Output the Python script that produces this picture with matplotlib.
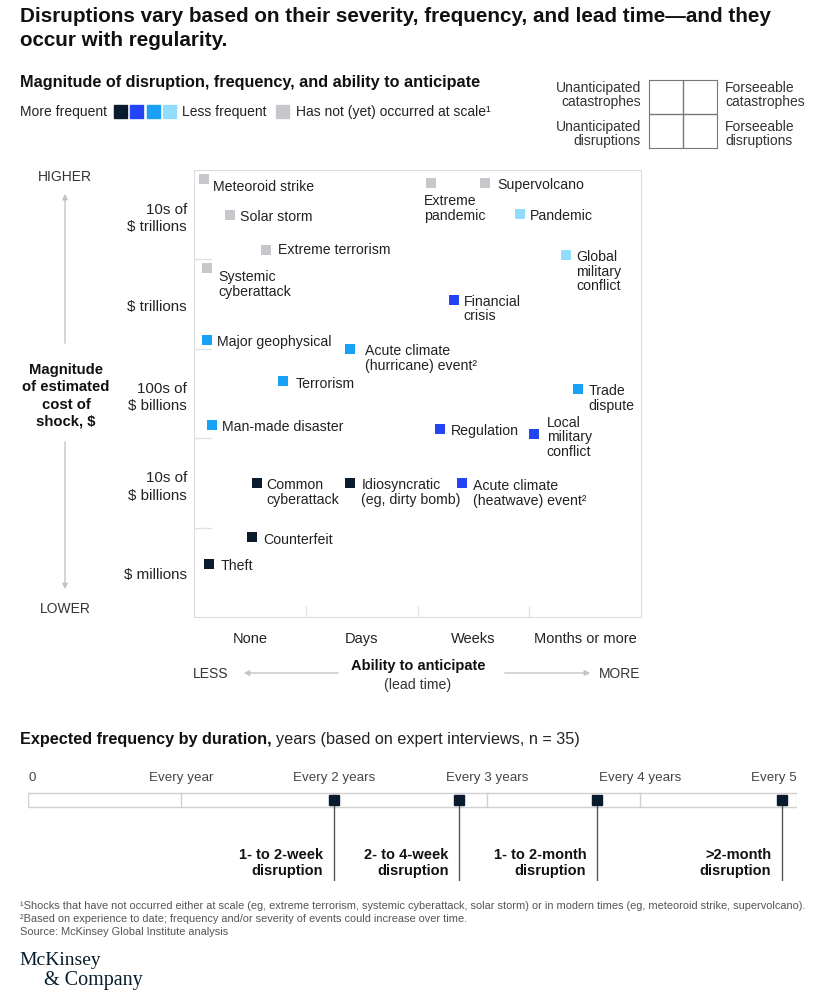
import matplotlib
matplotlib.use("Agg")
import matplotlib.pyplot as plt
from matplotlib.patches import Rectangle

plt.rcParams['font.family'] = ['Liberation Sans', 'DejaVu Sans']

# ---- data ----
freq_colors = ['#0b1b2e', '#2443f5', '#18a0f5', '#92dcfc']
gray_color = '#c7c7cb'

events = ['Meteoroid strike', 'Solar storm', 'Extreme terrorism', 'Systemic\ncyberattack',
          'Major geophysical', 'Terrorism', 'Man-made disaster', 'Common\ncyberattack',
          'Counterfeit', 'Theft', 'Acute climate\n(hurricane) event\u00b2',
          'Idiosyncratic\n(eg, dirty bomb)', 'Extreme\npandemic', 'Supervolcano', 'Pandemic',
          'Global\nmilitary\nconflict', 'Financial\ncrisis', 'Trade\ndispute', 'Regulation',
          'Local\nmilitary\nconflict', 'Acute climate\n(heatwave) event\u00b2']
anticipate = [0.09, 0.32, 0.64, 0.12, 0.12, 0.80, 0.16, 0.56, 0.52, 0.13, 1.40,
              1.40, 2.12, 2.60, 2.92, 3.33, 2.33, 3.44, 2.20, 3.04, 2.40]
magnitude = [4.90, 4.50, 4.11, 3.90, 3.10, 2.64, 2.15, 1.50, 0.89, 0.59, 3.00,
             1.50, 4.85, 4.85, 4.51, 4.05, 3.55, 2.55, 2.10, 2.05, 1.50]
# frequency class: 0 most frequent .. 3 least frequent, -1 = not yet occurred at scale
freq_class = [-1, -1, -1, -1, 2, 2, 2, 0, 0, 0, 2,
              0, -1, -1, 3, 3, 1, 2, 1, 1, 1]

row_labels = ['$ millions', '10s of\n$ billions', '100s of\n$ billions', '$ trillions', '10s of\n$ trillions']
col_labels = ['None', 'Days', 'Weeks', 'Months or more']

timeline_labels = ['0', 'Every year', 'Every 2 years', 'Every 3 years', 'Every 4 years', 'Every 5']
durations = ['1- to 2-week\ndisruption', '2- to 4-week\ndisruption',
             '1- to 2-month\ndisruption', '>2-month\ndisruption']
duration_years = [2.0, 2.82, 3.72, 4.93]

# ---- layout helpers ----
W, H = 825, 995
fig = plt.figure(figsize=(W / 100, H / 100), dpi=100)
fig.patch.set_facecolor('white')
TXT = '#222222'


def T(x, y, s, **kw):
    kw.setdefault('color', TXT)
    kw.setdefault('fontsize', 10)
    kw.setdefault('va', 'center')
    return fig.text(x / W, 1 - y / H, s, **kw)


def arrow(x0, y0, x1, y1):
    fig.add_artist(matplotlib.patches.FancyArrowPatch(
        (x0 / W, 1 - y0 / H), (x1 / W, 1 - y1 / H), transform=fig.transFigure,
        arrowstyle='-|>', mutation_scale=8, color='#c4c4c4', lw=1))


# title
T(20, 28.5, 'Disruptions vary based on their severity, frequency, and lead time\u2014and they\noccur with regularity.',
  fontsize=14.9, fontweight='bold', color='#111111', linespacing=1.3)

T(20, 82, 'Magnitude of disruption, frequency, and ability to anticipate', fontsize=11.7, fontweight='bold', color='#111111')

# legend
T(20, 112, 'More frequent')
for i, c in enumerate(freq_colors):
    fig.add_artist(Rectangle(((114 + i * 16.3) / W, 1 - 119 / H), 13 / W, 13 / H,
                             transform=fig.transFigure, color=c))
T(182, 112, 'Less frequent')
fig.add_artist(Rectangle((276 / W, 1 - 119 / H), 13 / W, 13 / H, transform=fig.transFigure, color=gray_color))
T(296, 112, 'Has not (yet) occurred at scale\u00b9')

# quadrant key
qa = fig.add_axes([649 / W, 1 - 149 / H, 68 / W, 68 / H])
qa.set_xlim(0, 2)
qa.set_ylim(0, 2)
qa.axvline(1, color='#777777', lw=1)
qa.axhline(1, color='#777777', lw=1)
qa.set_xticks([])
qa.set_yticks([])
for s in qa.spines.values():
    s.set_color('#777777')
T(641, 95, 'Unanticipated\ncatastrophes', ha='right', color='#333333', linespacing=1.0)
T(641, 134, 'Unanticipated\ndisruptions', ha='right', color='#333333', linespacing=1.0)
T(725, 95, 'Forseeable\ncatastrophes', ha='left', color='#333333', linespacing=1.0)
T(725, 134, 'Forseeable\ndisruptions', ha='left', color='#333333', linespacing=1.0)

# ---- main chart ----
ax = fig.add_axes([194 / W, 1 - 618 / H, 447 / W, 447 / H])
ax.set_xlim(0, 4)
ax.set_ylim(0, 5)
for s in ax.spines.values():
    s.set_color('#dcdcdc')
ax.set_xticks([1, 2, 3])
ax.set_yticks([1, 2, 3, 4])
ax.set_xticklabels([])
ax.set_yticklabels([])
ax.tick_params(axis='y', which='major', direction='in', length=13, color='#e2e2e2', width=1)
ax.tick_params(axis='x', which='major', direction='in', length=8, color='#e2e2e2', width=1)
ax.set_xticks([0.5, 1.5, 2.5, 3.5], minor=True)
ax.set_xticklabels(col_labels, minor=True, fontsize=10.5)
ax.set_yticks([0.5, 1.5, 2.5, 3.5, 4.5], minor=True)
ax.set_yticklabels(row_labels, minor=True, linespacing=1.3, fontsize=10.9)
ax.tick_params(which='minor', length=0, labelcolor=TXT)
ax.tick_params(axis='y', which='minor', pad=5)
ax.tick_params(axis='x', which='minor', pad=10)

colors = [gray_color if f < 0 else freq_colors[f] for f in freq_class]
ax.scatter(anticipate, magnitude, marker='s', s=52, c=colors, linewidths=0, zorder=3)

# label offsets in pixels: (dx to text left, dy down to first line centre)
label_offsets = [(9, 6), (10, 0), (12, -2), (11, 7), (10, 0), (12, 1), (10, 0), (10, 0),
                 (11, 1), (12, 0), (15, 0), (11, 0), (-7, 16), (13, 0), (10, 0), (10, 0),
                 (9, 0), (10, 0), (11, 0), (13, -13), (11, 1)]
for name, xv, yv, (dx, dy) in zip(events, anticipate, magnitude, label_offsets):
    ax.annotate(name, (xv, yv), xytext=(dx, -(dy - 6)), textcoords='offset pixels',
                ha='left', va='top', fontsize=10.2, color=TXT, linespacing=1.07, zorder=4)

# axis titles and arrows
T(65, 177, 'HIGHER', ha='center', color='#333333')
arrow(65, 347, 65, 192)
T(66, 396, 'Magnitude\nof estimated\ncost of\nshock, $', ha='center', fontweight='bold', color='#111111',
  linespacing=1.28, fontsize=10.7)
arrow(65, 440, 65, 593)
T(65, 609, 'LOWER', ha='center', color='#333333')

T(211, 674, 'LESS', ha='center', color='#333333')
arrow(341, 674, 241, 674)
T(418, 666, 'Ability to anticipate', ha='center', fontweight='bold', color='#111111', fontsize=10.5)
T(418, 685, '(lead time)', ha='center', color='#333333', fontsize=10.2)
arrow(502, 674, 593, 674)
T(620, 674, 'MORE', ha='center', color='#333333')

# ---- frequency timeline ----
t_head = T(20, 740, 'Expected frequency by duration,', fontsize=11.7, fontweight='bold', color='#111111')
fig.canvas.draw()
bb = t_head.get_window_extent(renderer=fig.canvas.get_renderer())
T(bb.x1 + 4, 740, 'years (based on expert interviews, n = 35)', fontsize=11.7, color='#222222')

px_per_year = 153.0
tl = fig.add_axes([28 / W, 1 - 882 / H, 769 / W, 90 / H])
tl.set_xlim(0, 769 / px_per_year)
tl.set_ylim(882, 792)
tl.axis('off')
tl.add_patch(Rectangle((0, 794), 769 / px_per_year, 14, facecolor='white', edgecolor='#d0d0d0', lw=1))
for yr in range(1, 5):
    tl.plot([yr, yr], [794, 808], color='#d0d0d0', lw=1)
for i, lab in enumerate(timeline_labels):
    ha = 'left' if i == 0 else ('right' if i == len(timeline_labels) - 1 else 'center')
    xpos = 769 / px_per_year if i == len(timeline_labels) - 1 else i
    T(28 + xpos * px_per_year, 778, lab, ha=ha, color='#444444', fontsize=9.6)
for lab, yr in zip(durations, duration_years):
    tl.plot([yr, yr], [801, 881], color='#555555', lw=1)
    tl.plot(yr, 801, marker='s', ms=7.5, color=freq_colors[0], zorder=5)
    T(28 + yr * px_per_year - 11, 863, lab, ha='right', fontweight='bold', color='#111111',
      linespacing=1.2, family=['Liberation Sans Narrow', 'Liberation Sans'], fontsize=10.5)

# footnotes
foot = ['\u00b9Shocks that have not occurred either at scale (eg, extreme terrorism, systemic cyberattack, solar storm) or in modern times (eg, meteoroid strike, supervolcano).',
        '\u00b2Based on experience to date; frequency and/or severity of events could increase over time.',
        'Source: McKinsey Global Institute analysis']
for i, f in enumerate(foot):
    T(20, 906 + i * 13, f, fontsize=7.9, color='#555555',
      family=['Liberation Sans Narrow', 'Liberation Sans'])

T(19, 961, 'McKinsey', family=['Liberation Serif', 'DejaVu Serif'], fontsize=14, color='#051c2c')
T(44, 981, '& Company', family=['Liberation Serif', 'DejaVu Serif'], fontsize=14.5, color='#051c2c')

fig.savefig('out.png', dpi=100, facecolor='white')
